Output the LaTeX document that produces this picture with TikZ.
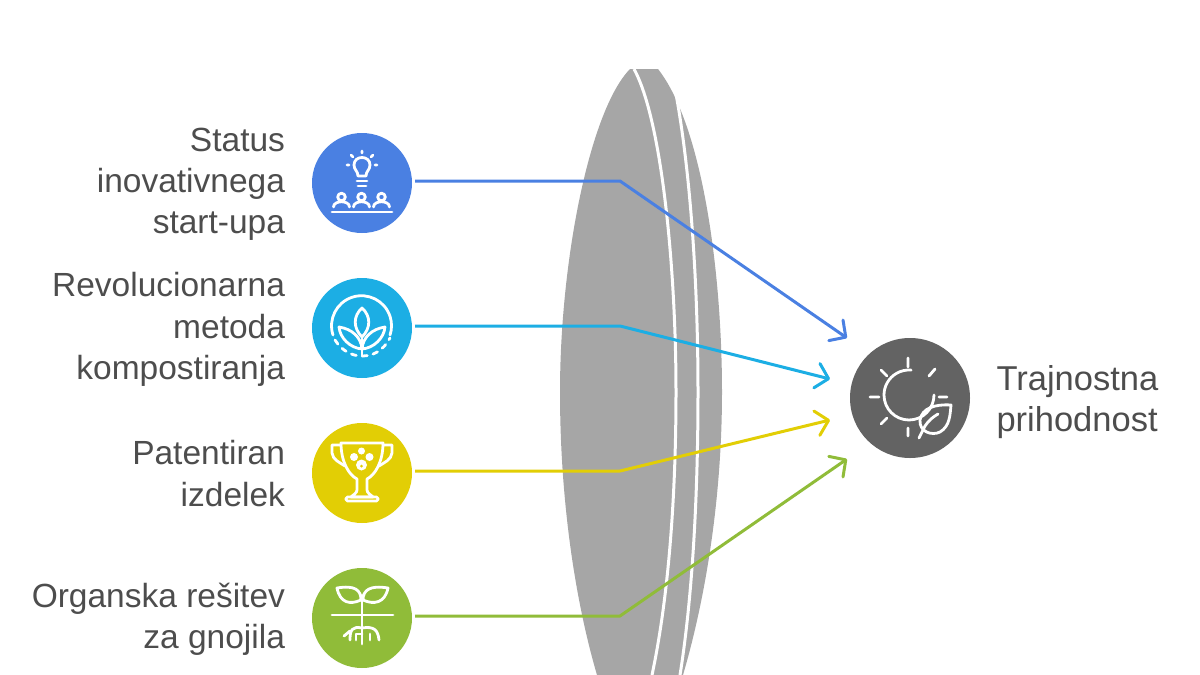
\documentclass[tikz,border=0pt]{standalone}
\usepackage{fontspec}
\setmainfont{Liberation Sans}
\usetikzlibrary{arrows.meta}
\definecolor{lensgray}{HTML}{A6A6A6}
\definecolor{labelgray}{HTML}{4D4D4D}
\definecolor{hubgray}{HTML}{636363}
\definecolor{iconblue}{HTML}{4A80E2}
\definecolor{iconcyan}{HTML}{1CAEE4}
\definecolor{iconyellow}{HTML}{E2CE05}
\definecolor{icongreen}{HTML}{90BC39}
\tikzset{
  iconnode/.style={circle,minimum size=100pt,inner sep=0pt,outer sep=3pt},
  labelnode/.style={anchor=east,align=right,text=labelgray,font=\fontsize{33.5}{41.2}\selectfont},
  link/.style={line width=3pt,line join=round,-{Straight Barb[length=12pt,width=25pt,line width=3pt,round]}},
  iconline/.style={draw=white,line width=2.8pt,line cap=round,line join=round}
}
\begin{document}
\begin{tikzpicture}[x=1pt,y=-1pt]
\useasboundingbox (0,0) rectangle (1200,675);
% lens
\fill[lensgray] (630,69) -- (658,69) .. controls (702,125) and (722,270) .. (722,392)
  .. controls (722,500) and (705,600) .. (683,675) -- (597,675)
  .. controls (575,600) and (560,500) .. (560,392) .. controls (560,260) and (590,110) .. (630,69) -- cycle;
\draw[white,line width=3pt] (634,69) .. controls (662,120) and (676,270) .. (676,392)
  .. controls (676,500) and (668,600) .. (652,675);
\draw[white,line width=3pt] (676,94) .. controls (690,170) and (698,280) .. (698,392)
  .. controls (698,500) and (692,600) .. (680,675);
% nodes
\node[iconnode,fill=iconblue] (status) at (362,183) {};
\node[iconnode,fill=iconcyan] (metoda) at (362,328) {};
\node[iconnode,fill=iconyellow] (patent) at (362,473) {};
\node[iconnode,fill=icongreen] (organ) at (362,618) {};
\node[circle,minimum size=120pt,inner sep=0pt,fill=hubgray] (hub) at (910,398) {};
\node[labelnode] (statustext) at (288.5,184.5) {Status\\inovativnega\\start-upa};
\node[labelnode] (metodatext) at (288.5,329.5) {Revolucionarna\\metoda\\kompostiranja};
\node[labelnode] (patenttext) at (288.5,473.5) {Patentiran\\izdelek};
\node[labelnode] (organtext) at (288.5,619) {Organska rešitev\\za gnojila};
\node[labelnode,anchor=west,align=left,font=\fontsize{34.5}{41.2}\selectfont] (hubtext) at (993,402) {Trajnostna\\prihodnost};
% connectors
\coordinate (bend1) at (620,181);
\coordinate (bend2) at (620,326);
\coordinate (bend3) at (620,471);
\coordinate (bend4) at (620,616);
\coordinate (tip1) at (847,338);
\coordinate (tip2) at (830,379);
\coordinate (tip3) at (830,420);
\coordinate (tip4) at (847,459);
\draw[link,iconblue] (status.east |- bend1) -- (bend1) -- (tip1);
\draw[link,iconcyan] (metoda.east |- bend2) -- (bend2) -- (tip2);
\draw[link,iconyellow] (patent.east |- bend3) -- (bend3) -- (tip3);
\draw[link,icongreen] (organ.east |- bend4) -- (bend4) -- (tip4);
% bulb and people
\draw[iconline] (358,176) .. controls (358,171) and (354,170) .. (354,165) .. controls (354,155) and (370,155) .. (370,165) .. controls (370,170) and (366,171) .. (366,176) -- cycle;
\draw[iconline] (357,181) -- (367,181) (358,186) -- (366,186);
\draw[iconline] (362,151) -- (362,153) (351,155) -- (353,157) (373,155) -- (371,157) (347,165) -- (349,165) (375,165) -- (377,165);
\foreach \px in {341.5,361.5,381.5} {
  \draw[iconline] (\px,197) circle[radius=3.8pt];
  \draw[iconline] (\px-8,207) .. controls (\px-8,200) and (\px+8,200) .. (\px+8,207);
}
\draw[iconline] (332,212) -- (392,212);
% leaves in ring
\draw[iconline] (333,335) arc[start angle=198,end angle=-18,radius=30pt];
\draw[iconline,dash pattern=on 5pt off 6pt] (335,340) .. controls (342,351) and (352,356) .. (362,356) .. controls (373,356) and (383,351) .. (390,338);
\draw[iconline] (362,308) .. controls (353,316) and (353,328) .. (362,337) .. controls (371,328) and (371,316) .. (362,308) -- cycle;
\draw[iconline] (339,327) .. controls (340,338) and (350,348) .. (362,349) .. controls (361,337) and (352,329) .. (339,327) -- cycle;
\draw[iconline] (385,327) .. controls (384,338) and (374,348) .. (362,349) .. controls (363,337) and (372,329) .. (385,327) -- cycle;
\draw[iconline] (362,337) -- (362,356);
% trophy
\draw[iconline] (341,443) -- (383,443) .. controls (383,462) and (375,475) .. (367,479) -- (367,490) .. controls (367,493) and (371,495) .. (373,497) -- (351,497) .. controls (353,495) and (357,493) .. (357,490) -- (357,479) .. controls (349,475) and (341,462) .. (341,443) -- cycle;
\draw[iconline] (341,445) -- (332,445) -- (332,453) .. controls (333,460) and (339,462) .. (345,466);
\draw[iconline] (383,445) -- (392,445) -- (392,453) .. controls (391,460) and (385,462) .. (379,466);
\draw[iconline,rounded corners=1.5pt] (346,497) rectangle (378,501);
\fill[white] (361.5,451) circle[radius=3.5pt] (354,457) circle[radius=4pt] (369.5,457) circle[radius=4pt] (361.5,465) circle[radius=5.5pt];
\fill[iconyellow] (361.5,466) circle[radius=1.5pt];
% seedling
\draw[iconline] (332,615) -- (393,615);
\draw[iconline] (362,595) -- (362,644);
\draw[iconline] (337,588) .. controls (355,585) and (361,590) .. (361,600) .. controls (350,605) and (340,603) .. (337,588) -- cycle;
\draw[iconline] (388,588) .. controls (370,585) and (363,590) .. (363,600) .. controls (374,605) and (385,603) .. (388,588) -- cycle;
\draw[iconline] (362,628) .. controls (352,626) and (350,630) .. (350,640);
\draw[iconline] (350,631) -- (344,636);
\draw[iconline] (362,628) .. controls (374,626) and (378,630) .. (379,640);
\draw[iconline] (356,640) -- (356,634) -- (362,634);
\draw[iconline] (370,640) -- (370,634);
% sun and leaf
\draw[iconline] (934,395) arc[start angle=0,end angle=-275,radius=25pt];
\draw[iconline] (908,358) -- (908,367) (881,370) -- (887,376) (935,369) -- (929,376) (870,397) -- (879,397) (939,397) -- (947,397) (881,424) -- (887,418) (908,428) -- (908,436);
\draw[iconline] (951,405) .. controls (935,404) and (922,408) .. (920,420) .. controls (919,432) and (932,436) .. (940,432) .. controls (950,426) and (950,415) .. (951,405) -- cycle;
\draw[iconline] (919,438) -- (925,426) .. controls (929,420) and (933,417) .. (938,414);
\end{tikzpicture}
\end{document}
